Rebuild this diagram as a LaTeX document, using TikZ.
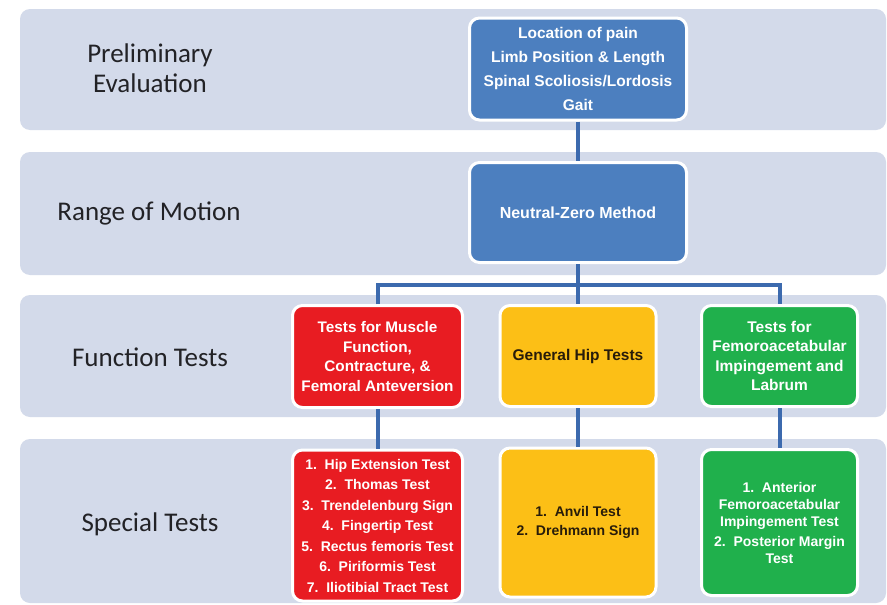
\documentclass[tikz,border=0pt]{standalone}
\usepackage{fontspec}
\setmainfont{Liberation Sans}
\newfontfamily\lblfont{Carlito}
\definecolor{bandc}{RGB}{211,218,234}
\definecolor{bluebox}{RGB}{76,127,191}
\definecolor{connc}{RGB}{60,106,174}
\definecolor{redbox}{RGB}{232,28,34}
\definecolor{yelbox}{RGB}{252,191,22}
\definecolor{grnbox}{RGB}{32,176,76}
\definecolor{lbltext}{RGB}{34,34,38}
\definecolor{yeltext}{RGB}{40,28,10}
\begin{document}
\begin{tikzpicture}[x=1pt,y=-1pt,
  band/.style={fill=bandc,rounded corners=10pt},
  lbl/.style={font=\lblfont\fontsize{27}{30}\selectfont,text=lbltext,align=center,inner sep=0pt},
  boxbase/.style={rectangle,draw=white,line width=3pt,rounded corners=10pt,inner sep=0pt,align=center,font=\bfseries},
  bluenode/.style={boxbase,fill=bluebox,text=white},
  rednode/.style={boxbase,fill=redbox,text=white},
  yelnode/.style={boxbase,fill=yelbox,text=yeltext},
  grnnode/.style={boxbase,fill=grnbox,text=white},
  conn/.style={draw=connc,line width=4pt}]
\useasboundingbox (0,0) rectangle (887,605);
\fill[white] (0,0) rectangle (887,605);
% bands
\fill[band] (20,9) rectangle (886,130);
\fill[band] (20,152) rectangle (886,275);
\fill[band] (20,295) rectangle (886,417);
\fill[band] (20,439) rectangle (886,603);
% left labels
\node[lbl] (l1) at (150,68) {Preliminary\\Evaluation};
\node[lbl] (l2) at (149,213) {Range of Motion};
\node[lbl] (l3) at (150,357) {Function Tests};
\node[lbl] (l4) at (150,524) {Special Tests};
% boxes
\node[bluenode,minimum width=217pt,minimum height=102pt,font=\bfseries\fontsize{15.5}{23.7}\selectfont] (pe) at (578,69)
  {Location of pain\\Limb Position \& Length\\Spinal Scoliosis/Lordosis\\Gait};
\node[bluenode,minimum width=217pt,minimum height=100pt,font=\bfseries\fontsize{16}{20}\selectfont] (nz) at (578,212.5)
  {Neutral-Zero Method};
\node[rednode,minimum width=170pt,minimum height=102pt,font=\bfseries\fontsize{15.3}{19.5}\selectfont] (ft1) at (377.5,356.5)
  {Tests for Muscle\\Function,\\Contracture, \&\\Femoral Anteversion};
\node[yelnode,minimum width=156pt,minimum height=101pt,font=\bfseries\fontsize{15.5}{19}\selectfont] (ft2) at (578,356)
  {General Hip Tests};
\node[grnnode,minimum width=156pt,minimum height=101pt,font=\bfseries\fontsize{15.5}{19.5}\selectfont] (ft3) at (779.5,356)
  {Tests for\\Femoroacetabular\\Impingement and\\Labrum};
\node[rednode,minimum width=170pt,minimum height=151pt,font=\bfseries\fontsize{14}{20.5}\selectfont] (st1) at (377.5,525.5)
  {1.\ \ Hip Extension Test\\2.\ \ Thomas Test\\3.\ \ Trendelenburg Sign\\4.\ \ Fingertip Test\\5.\ \ Rectus femoris Test\\6.\ \ Piriformis Test\\7.\ \ Iliotibial Tract Test};
\node[yelnode,minimum width=156pt,minimum height=149pt,font=\bfseries\fontsize{14}{19}\selectfont] (st2) at (578,522.5)
  {1.\ \ Anvil Test\\2.\ \ Drehmann Sign};
\node[grnnode,minimum width=156pt,minimum height=146pt,font=\bfseries\fontsize{14}{17}\selectfont] (st3) at (779.5,522.5)
  {1.\ \ Anterior\\Femoroacetabular\\Impingement Test\\[3pt]2.\ \ Posterior Margin\\Test};
% connectors
\coordinate (j) at (578,285);
\draw[conn] (pe.south) -- (nz.north);
\draw[conn] (nz.south) -- (ft2.north);
\draw[conn] (ft1.north) |- (j) -| (ft3.north);
\draw[conn] (ft1.south) -- (st1.north);
\draw[conn] (ft2.south) -- (st2.north);
\draw[conn] (ft3.south) -- (st3.north);
\end{tikzpicture}
\end{document}
